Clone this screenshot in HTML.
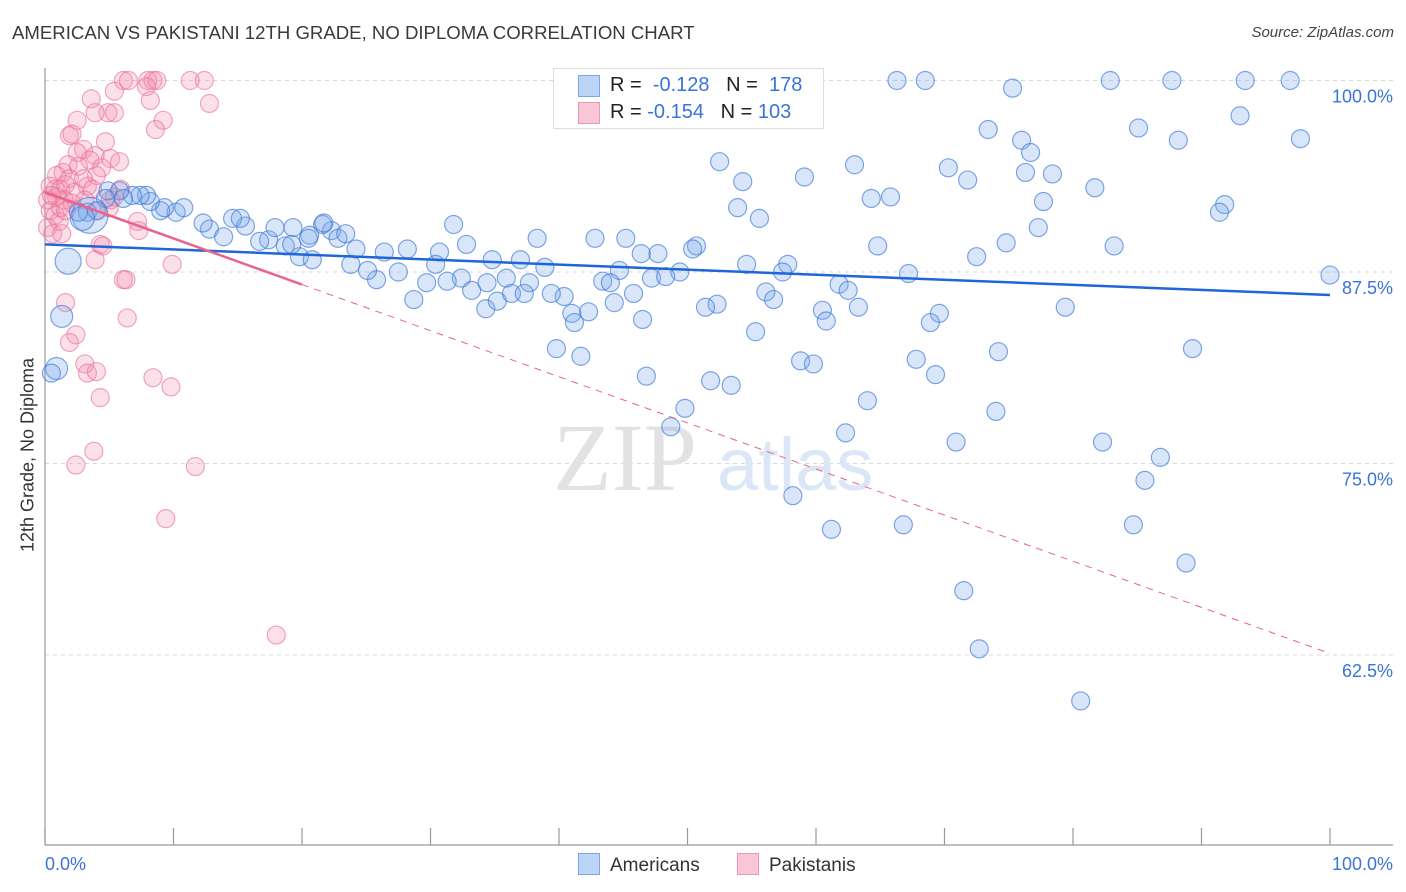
<!DOCTYPE html>
<html><head><meta charset="utf-8">
<style>
body{margin:0;background:#fff;font-family:"Liberation Sans",sans-serif;}
#wrap{position:relative;width:1406px;height:892px;overflow:hidden;}
.t{position:absolute;white-space:nowrap;}
</style></head>
<body>
<div id="wrap">
<div class="t" style="left:12px;top:22px;font-size:18.6px;color:#3a3a3a;">AMERICAN VS PAKISTANI 12TH GRADE, NO DIPLOMA CORRELATION CHART</div>
<div class="t" style="right:12px;top:24px;font-size:15px;color:#444;font-style:italic;">Source: ZipAtlas.com</div>
<div class="t" style="left:28px;top:455px;font-size:18px;color:#333;transform:translate(-50%,-50%) rotate(-90deg);">12th Grade, No Diploma</div>
<svg id="plot" width="1406" height="892" style="position:absolute;left:0;top:0"></svg>
</div>
<script>
const xTickLabels=["0.0%","100.0%"];
const yTicks=[100,87.5,75,62.5];
const yTickLabels=["100.0%","87.5%","75.0%","62.5%"];
const amX=[82.9,87.7,93.4,96.9,66.3,68.5,75.3,93.0,85.1,73.4,76.0,88.2,97.7,76.7,52.5,63.0,70.3,76.3,78.4,54.3,59.1,71.8,81.7,64.3,65.8,77.7,53.9,91.8,91.4,55.6,77.3,83.2,74.8,64.8,72.5,50.7,50.4,54.6,57.8,57.4,67.2,100,47.7,46.4,42.8,45.2,38.3,31.8,32.8,28.2,30.7,26.4,34.8,37.0,38.9,44.7,47.2,49.4,48.3,43.4,44.0,45.8,56.1,56.7,61.8,52.3,51.4,44.3,42.3,41.0,41.2,40.4,39.4,37.7,35.9,34.4,32.4,33.2,34.3,35.2,36.3,37.3,28.7,29.7,31.3,30.4,27.5,25.8,25.1,23.8,24.2,22.3,21.6,20.6,19.8,20.8,18.7,17.4,16.7,15.6,14.6,15.2,12.8,13.9,12.3,10.2,10.8,9.0,9.3,8.2,7.9,7.4,6.8,5.8,4.9,6.1,4.7,4.0,3.3,3.5,2.9,2.6,1.8,1.3,0.9,0.5,21.7,22.8,23.4,19.3,17.9,20.5,19.2,46.5,39.8,41.7,55.3,62.5,60.5,60.8,63.3,69.6,68.9,67.8,74.2,58.8,59.8,69.3,46.8,51.8,53.4,89.3,79.4,64.0,74.0,49.8,48.7,62.3,70.9,82.3,86.8,85.6,58.2,61.2,66.8,84.7,88.8,71.5,72.7,80.6];
const amY=[100,100,100,100,100,100,99.5,97.7,96.9,96.8,96.1,96.1,96.2,95.3,94.7,94.5,94.3,94.0,93.9,93.4,93.7,93.5,93.0,92.3,92.4,92.1,91.7,91.9,91.4,91.0,90.4,89.2,89.4,89.2,88.5,89.2,89.0,88.0,88.0,87.5,87.4,87.3,88.7,88.7,89.7,89.7,89.7,90.6,89.3,89.0,88.8,88.8,88.3,88.3,87.8,87.6,87.1,87.5,87.2,86.9,86.8,86.1,86.2,85.7,86.7,85.4,85.2,85.5,84.9,84.8,84.2,85.9,86.1,86.8,87.1,86.8,87.1,86.3,85.1,85.6,86.1,86.1,85.7,86.8,86.9,88.0,87.5,87.0,87.6,88.0,89.0,90.2,90.6,89.9,88.5,88.3,89.2,89.6,89.5,90.5,91.0,91.0,90.3,89.8,90.7,91.4,91.7,91.5,91.7,92.1,92.5,92.5,92.5,92.8,92.8,92.3,92.3,91.5,91.4,91.2,91.0,91.4,88.2,84.6,81.2,80.9,90.7,89.7,90.0,90.4,90.4,89.7,89.3,84.4,82.5,82.0,83.6,86.3,85.0,84.3,85.2,84.8,84.2,81.8,82.3,81.7,81.5,80.8,80.7,80.4,80.1,82.5,85.2,79.1,78.4,78.6,77.4,77.0,76.4,76.4,75.4,73.9,72.9,70.7,71.0,71.0,68.5,66.7,62.9,59.5];
const amBig={119:18,120:12,122:13,123:11,124:11};
const pkX=[6.1,6.5,8.0,8.4,8.7,11.3,12.4,5.4,7.9,3.6,8.2,12.8,4.9,5.4,3.9,2.5,9.2,8.6,1.9,2.1,4.7,3.0,2.5,3.9,5.1,5.8,3.5,1.8,2.6,4.4,4.0,1.4,0.9,1.9,3.0,0.8,0.4,1.2,1.6,2.3,3.3,3.7,0.9,1.5,2.1,0.4,0.8,1.1,0.2,0.6,1.3,4.1,5.0,5.9,7.2,7.3,4.3,4.5,3.9,6.1,6.3,9.9,6.4,1.6,2.4,1.9,3.1,3.3,4.0,4.3,8.4,9.8,3.8,2.4,11.7,9.4,18.0,1.2,0.2,0.5,1.6,3.1,5.1,5.4];
const pkY=[100,100,100,100,100,100,100,99.3,99.6,98.8,98.7,98.5,97.9,97.9,97.9,97.4,97.4,96.8,96.4,96.5,96.0,95.5,95.3,95.1,94.9,94.7,94.8,94.5,94.4,94.3,93.8,94.0,93.8,93.6,93.6,92.9,93.1,92.9,93.2,92.7,93.1,92.9,92.4,92.2,92.0,91.5,91.2,90.8,90.4,90.0,90.0,91.5,91.7,92.9,90.8,90.2,89.3,89.2,88.3,87.0,87.0,88.0,84.5,85.5,83.4,82.9,81.5,80.9,81.0,79.3,80.6,80.0,75.8,74.9,74.8,71.4,63.8,91.7,92.2,92.5,91.5,92.2,92.2,92.4];
const amTrend=[89.3,86.0];
const pkTrend=[92.7,62.6];
const pkSolidEnd=20;

const NS="http://www.w3.org/2000/svg";
const svg=document.getElementById('plot');
const X0=45,X1=1330,YTOP=80.5,YPER=15.32;
const sx=v=>X0+(X1-X0)*v/100;
const sy=v=>YTOP+(100-v)*YPER;
function mk(tag,attrs,parent){const e=document.createElementNS(NS,tag);for(const k in attrs)e.setAttribute(k,attrs[k]);(parent||svg).appendChild(e);return e;}
yTicks.forEach((t,i)=>{
 const g=mk('line',{x1:X0,x2:1393,y1:sy(t),y2:sy(t),stroke:'#d8d8d8','stroke-dasharray':'4,4','stroke-width':1});
 
 
 const tx=mk('text',{x:1393,y:sy(t)+22,'text-anchor':'end','font-size':18,fill:'#3b74d8','font-family':'Liberation Sans, sans-serif'});
 tx.textContent=yTickLabels[i];
 
 
});
let a=mk('line',{x1:X0,x2:X0,y1:68,y2:845,stroke:'#999','stroke-width':1.2});


a=mk('line',{x1:X0,x2:1393,y1:845,y2:845,stroke:'#999','stroke-width':1.2});


for(let i=0;i<=10;i++){const tk=mk('line',{x1:sx(i*10),x2:sx(i*10),y1:828,y2:845,stroke:'#999','stroke-width':1.2});
 
 }
[[0,'start'],[100,'end']].forEach((p,i)=>{
 const x=i==0?X0:1393;
 const tx=mk('text',{x:x,y:870,'text-anchor':p[1],'font-size':18,fill:'#3b74d8','font-family':'Liberation Sans, sans-serif'});
 tx.textContent=xTickLabels[i];
 
 
});
let w=mk('text',{x:553,y:490,'font-size':96,fill:'#e2e2e2','font-family':'Liberation Serif, serif'});w.textContent='ZIP';


w=mk('text',{x:717,y:490,'font-size':74,fill:'#dbe6f7','font-family':'Liberation Sans, sans-serif'});w.textContent='atlas';


pkX.forEach((v,i)=>{const c=mk('circle',{cx:sx(v),cy:sy(pkY[i]),r:9,fill:'rgba(244,143,177,0.28)',stroke:'rgba(232,110,150,0.6)','stroke-width':1.2});
 
 });
amX.forEach((v,i)=>{const c=mk('circle',{cx:sx(v),cy:sy(amY[i]),r:amBig[i]||9,fill:'rgba(120,165,235,0.28)',stroke:'rgba(60,120,215,0.65)','stroke-width':1.2});
 
 });
let l=mk('line',{x1:sx(0),y1:sy(amTrend[0]),x2:sx(100),y2:sy(amTrend[1]),stroke:'#1f66d6','stroke-width':2.5});


const pkAt=x=>pkTrend[0]+(pkTrend[1]-pkTrend[0])*x/100;
l=mk('line',{x1:sx(0),y1:sy(pkTrend[0]),x2:sx(pkSolidEnd),y2:sy(pkAt(pkSolidEnd)),stroke:'#e8648c','stroke-width':2.5});


l=mk('line',{x1:sx(pkSolidEnd),y1:sy(pkAt(pkSolidEnd)),x2:sx(100),y2:sy(pkTrend[1]),stroke:'#e8648c','stroke-width':1,'stroke-dasharray':'7,6'});


</script>
<div class="t" style="left:553px;top:68px;width:271px;height:61px;border:1px solid #ddd;background:#fff;box-sizing:border-box;"></div>
<div class="t" style="left:578px;top:75px;width:20px;height:20px;background:#bcd5f7;border:1px solid #7aa7e8;"></div>
<div class="t" style="left:578px;top:102px;width:20px;height:20px;background:#f8c6d6;border:1px solid #ec98b4;"></div>
<div class="t" style="left:610px;top:74px;font-size:20px;color:#222;">R = <span style="color:#3b74d8">&nbsp;-0.128</span>&nbsp;&nbsp;&nbsp;N = <span style="color:#3b74d8">&nbsp;178</span></div>
<div class="t" style="left:610px;top:101px;font-size:20px;color:#222;">R = <span style="color:#3b74d8">-0.154</span>&nbsp;&nbsp;&nbsp;N = <span style="color:#3b74d8">103</span></div>
<div class="t" style="left:578px;top:853px;font-size:19px;color:#333;"><span style="display:inline-block;width:20px;height:20px;background:#bcd5f7;border:1px solid #7aa7e8;vertical-align:-4px;margin-right:10px;"></span>Americans</div>
<div class="t" style="left:737px;top:853px;font-size:19px;color:#333;"><span style="display:inline-block;width:20px;height:20px;background:#f8c6d6;border:1px solid #ec98b4;vertical-align:-4px;margin-right:10px;"></span>Pakistanis</div>
</body></html>
